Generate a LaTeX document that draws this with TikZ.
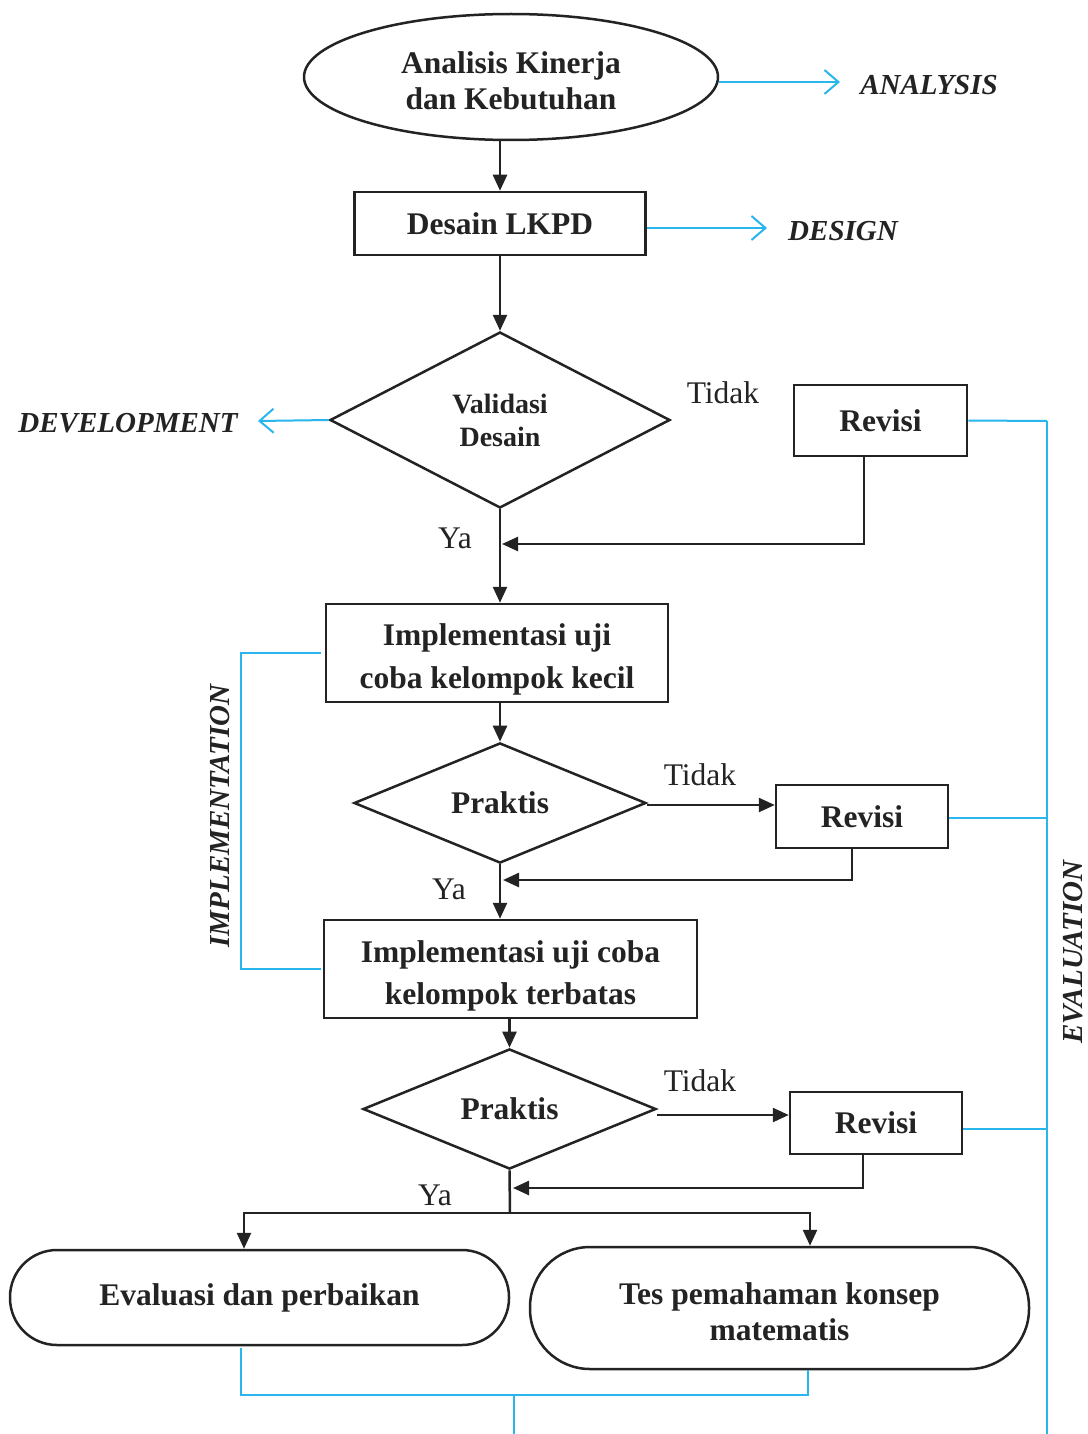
\documentclass[tikz,border=0pt]{standalone}
\usepackage{fontspec}
\setmainfont{Liberation Serif}
\usetikzlibrary{shapes.geometric,arrows.meta}
\definecolor{cyanln}{RGB}{41,182,236}
\definecolor{ink}{RGB}{35,35,35}
\begin{document}
\begin{tikzpicture}[x=1pt,y=-1pt,
  box/.style={draw=ink, line width=2.5pt, inner sep=0pt, align=center, text=ink,
    font=\fontsize{31.5}{43}\selectfont\bfseries},
  dia/.style={box, diamond},
  txt/.style={inner sep=0pt, align=center, text=ink, font=\fontsize{31.5}{43}\selectfont\bfseries},
  arr/.style={draw=ink, line width=2.5pt, -{Triangle[length=16pt,width=14pt]}},
  ln/.style={draw=ink, line width=2.5pt},
  bl/.style={draw=cyanln, line width=2pt},
  barr/.style={bl, -{Straight Barb[length=14pt,width=24pt]}},
  phase/.style={inner sep=0pt, text=ink, font=\fontsize{29}{34}\selectfont\bfseries\itshape},
  lbl/.style={inner sep=0pt, text=ink, font=\fontsize{31.5}{36}\selectfont}]
\useasboundingbox[fill=white] (0,0) rectangle (1087,1434);

% main shapes
\node[box, ellipse, minimum width=414pt, minimum height=126pt] (anal) at (511,77) {};
\node[txt, font=\fontsize{31.5}{36}\selectfont\bfseries] (analT) at ([yshift=-4pt]anal.center) {Analisis Kinerja\\dan Kebutuhan};
\node[box, minimum width=291pt, minimum height=63pt] (des) at (500,223.5) {Desain LKPD};
\node[dia, minimum width=340pt, minimum height=176pt,
  font=\fontsize{28}{33}\selectfont\bfseries] (val) at (500,420) {Validasi\\Desain};
\node[box, minimum width=173pt, minimum height=71pt] (rev1) at (880.5,420.5) {Revisi};
\node[box, minimum width=342pt, minimum height=98pt] (imp1) at (497,653) {};
\node[txt] (imp1T) at ([yshift=-6pt]imp1.center) {Implementasi uji\\coba kelompok kecil};
\node[dia, minimum width=292pt, minimum height=112pt] (pr1) at (500,803) {Praktis};
\node[box, minimum width=172pt, minimum height=63pt] (rev2) at (862,816.5) {Revisi};
\node[box, minimum width=373pt, minimum height=98pt] (imp2) at (510.5,969) {};
\node[txt, font=\fontsize{31.5}{42}\selectfont\bfseries] (imp2T) at ([yshift=-7pt]imp2.center) {Implementasi uji coba\\kelompok terbatas};
\node[dia, minimum width=293pt, minimum height=114pt] (pr2) at (509.5,1109) {Praktis};
\node[box, minimum width=172pt, minimum height=62pt] (rev3) at (876,1123) {Revisi};
\node[box, rounded corners=47pt, minimum width=499pt, minimum height=95pt] (eva) at (259.5,1297.5) {Evaluasi dan perbaikan};
\node[box, rounded corners=60pt, minimum width=499pt, minimum height=122pt] (tes) at (779.5,1308) {};
\node[txt, font=\fontsize{31.5}{36}\selectfont\bfseries] (tesT) at ([yshift=-4pt]tes.center) {Tes pemahaman konsep\\matematis};

% phase labels
\node[phase] (tA) at (929,85) {ANALYSIS};
\node[phase] (tD) at (843,231) {DESIGN};
\node[phase] (tDev) at (128,423) {DEVELOPMENT};
\node[phase, rotate=90] (tI) at (220,816) {IMPLEMENTATION};
\node[phase, rotate=90] (tE) at (1073,952) {EVALUATION};

% decision labels
\node[lbl] (t1) at (723,393) {Tidak};
\node[lbl] (t2) at (700,775) {Tidak};
\node[lbl] (t3) at (700,1081) {Tidak};
\node[lbl] (y1) at (455,538) {Ya};
\node[lbl] (y2) at (449,889) {Ya};
\node[lbl] (y3) at (435,1195) {Ya};

% coordinates
\coordinate (aT) at (840,82);
\coordinate (dT) at (767,228);
\coordinate (devT) at (258,421);
\coordinate (m1) at (502,544);
\coordinate (m2) at (503,880);
\coordinate (m3) at (513,1188);
\coordinate (sp) at (510,1213);
\coordinate (ib) at (241,800);
\coordinate (evT) at (1047,421);
\coordinate (evB) at (1047,1434);
\coordinate (bL) at (241,1348);
\coordinate (bM) at (514,1395);
\coordinate (bR) at (808,1370);
\coordinate (bB) at (514,1434);

% black flow
\draw[arr] (des.north |- anal.south) -- (des.north);
\draw[arr] (des.south) -- (val.north);
\draw[arr] (val.south) -- (val.south |- imp1.north);
\draw[arr] ([xshift=-16.5pt]rev1.south) |- (m1);
\draw[arr] (pr1.north |- imp1.south) -- (pr1.north);
\draw[arr] ([yshift=-2pt]pr1.east) -- ([yshift=-2pt]pr1.east -| rev2.west);
\draw[arr] ([xshift=-10pt]rev2.south) |- (m2);
\draw[arr] (pr1.south) -- (pr1.south |- imp2.north);
\draw[arr] (pr2.north |- imp2.south) -- (pr2.north);
\draw[arr] ([yshift=-6pt]pr2.east) -- ([yshift=-6pt]pr2.east -| rev3.west);
\draw[arr] ([xshift=-13pt]rev3.south) |- (m3);
\draw[ln] (pr2.south) -- (sp);
\draw[arr] (sp) -| ([xshift=-15.5pt]eva.north);
\draw[arr] (sp) -| ([xshift=30.5pt]tes.north);

% blue phase connectors
\draw[barr] (anal.east |- aT) -- (aT);
\draw[barr] (des.east |- dT) -- (dT);
\draw[barr] (val.west) -- (devT);
\draw[bl] ([xshift=-4pt]imp1.west) -| (ib) |- ([xshift=-2pt]imp2.west);
\draw[bl] (rev1.east) -- (evT);
\draw[bl] (evT) -- (evB);
\draw[bl] ([yshift=-1.5pt]rev2.east) -- ([yshift=-1.5pt]rev2.east -| evT);
\draw[bl] ([yshift=-6pt]rev3.east) -- ([yshift=-6pt]rev3.east -| evT);
\draw[bl] (bL) |- (bM) -| (bR);
\draw[bl] (bM) -- (bB);
\end{tikzpicture}
\end{document}
